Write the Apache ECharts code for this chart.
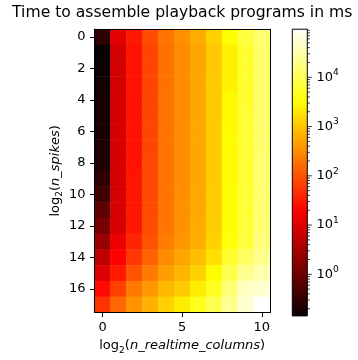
<!DOCTYPE html>
<html><head><meta charset="utf-8">
<script src="https://cdn.jsdelivr.net/npm/echarts@6/dist/echarts.min.js"></script>
<style>html,body{margin:0;padding:0;background:#fff}#c{width:358px;height:360px}</style>
</head><body><div id="c"></div>
<script>
// log2(n_realtime_columns) categories (x) and log2(n_spikes) categories (y)
const colLabels = [0, 1, 2, 3, 4, 5, 6, 7, 8, 9, 10];
const rowLabels = [0, 1, 2, 3, 4, 5, 6, 7, 8, 9, 10, 11, 12, 13, 14, 15, 16, 17];
// time in ms, one array per column, rows 0..17 top to bottom
const col0  = [0.30, 0.143, 0.145, 0.17, 0.19, 0.19, 0.20, 0.21, 0.22, 0.30, 0.41, 0.76, 1.27, 2.5, 5.3, 9.8, 24, 53];
const col1  = [10.6, 7.8, 7.8, 8.0, 8.0, 8.0, 8.2, 8.2, 8.2, 8.5, 8.5, 8.5, 9, 13, 20, 32, 70, 150];
const col2  = [31, 27, 27, 27, 28, 28, 28, 28, 28, 29, 29, 30, 31, 40, 58, 100, 220, 370];
const col3  = [88, 76, 76, 76, 78, 78, 78, 78, 80, 80, 82, 85, 90, 100, 135, 220, 400, 680];
const col4  = [200, 185, 185, 185, 190, 190, 190, 190, 190, 195, 195, 200, 210, 235, 310, 450, 750, 1250];
const col5  = [350, 310, 310, 315, 315, 315, 320, 320, 320, 320, 330, 340, 350, 380, 520, 700, 1120, 2200];
const col6  = [600, 520, 520, 520, 530, 530, 530, 530, 540, 540, 550, 560, 580, 620, 870, 1250, 2200, 4700];
const col7  = [1250, 1050, 1050, 1080, 1100, 1100, 1100, 1120, 1120, 1120, 1150, 1150, 1200, 1300, 1700, 3000, 5000, 9500];
const col8  = [3150, 2300, 2300, 2400, 2800, 2800, 2900, 2900, 3000, 3000, 3000, 3000, 3100, 3500, 6000, 9000, 16000, 22000];
const col9  = [7400, 6000, 6000, 6000, 6000, 6200, 6200, 6200, 6300, 6300, 6400, 6500, 6800, 7400, 11500, 21000, 41000, 52000];
const col10 = [14000, 13000, 13000, 13000, 13500, 13500, 13500, 13500, 14000, 14000, 14000, 14500, 15000, 17000, 21000, 33000, 52000, 94800];
const columns = [col0, col1, col2, col3, col4, col5, col6, col7, col8, col9, col10];
const xTickShown = [0, 5, 10];
const yTickShown = [0, 2, 4, 6, 8, 10, 12, 14, 16];
const cbarMajor = [1, 10, 100, 1000, 10000];

const FONT = 'DejaVu Sans';
const TXT = '#000';

// matplotlib "hot" colormap
function hot(t) {
  const cl = v => Math.max(0, Math.min(1, v));
  const r = t < 0.365079 ? 0.0416 + (1 - 0.0416) * t / 0.365079 : 1;
  const g = cl((t - 0.365079) / (0.746032 - 0.365079));
  const b = cl((t - 0.746032) / (1 - 0.746032));
  return 'rgb(' + Math.round(r * 255) + ',' + Math.round(g * 255) + ',' + Math.round(b * 255) + ')';
}
const NSTOP = 200;
const hotColors = [];
for (let i = 0; i <= NSTOP; i++) hotColors.push(hot(i / NSTOP));

const data = [];
columns.forEach((col, x) => col.forEach((v, y) => data.push([x, y, Math.log10(v), v])));
const allVals = columns.flat();
const vmin = Math.min(...allVals), vmax = Math.max(...allVals);
const lmin = Math.log10(vmin), lmax = Math.log10(vmax);

const tickData = [];
cbarMajor.forEach(v => tickData.push([1, v, 4.5]));
for (let e = Math.floor(lmin); e <= Math.ceil(lmax); e++) {
  for (let k = 2; k <= 9; k++) {
    const v = k * Math.pow(10, e);
    if (v >= vmin && v <= vmax) tickData.push([1, v, 2.6]);
  }
}

const G = { left: 94.6, top: 29.2, width: 175.2, height: 286.7 };
const CB = { left: 292.3, top: 29.2, width: 15, height: 286.7 };

const nameRich = {
  a: { fontSize: 13, lineHeight: 18, fontFamily: FONT, color: TXT },
  s: { fontSize: 9.1, lineHeight: 12, verticalAlign: 'bottom', fontFamily: FONT, color: TXT },
  i: { fontSize: 13, lineHeight: 18, fontStyle: 'italic', fontFamily: FONT, color: TXT }
};
const lineStyle = { color: '#000', width: 1 };

const chart = echarts.init(document.getElementById('c'), null, { renderer: 'canvas' });
chart.setOption({
  animation: false,
  backgroundColor: '#fff',
  title: {
    text: 'Time to assemble playback programs in ms',
    left: G.left + G.width / 2, top: 2.6, padding: 0, textAlign: 'center',
    textStyle: { fontFamily: FONT, fontSize: 15.6, fontWeight: 'normal', color: TXT, lineHeight: 20 }
  },
  grid: [
    { left: G.left, top: G.top, width: G.width, height: G.height, containLabel: false },
    { left: CB.left, top: CB.top, width: CB.width, height: CB.height, containLabel: false }
  ],
  visualMap: {
    type: 'continuous', show: false, min: lmin, max: lmax, dimension: 2, seriesIndex: 0,
    inRange: { color: hotColors }
  },
  xAxis: [
    {
      gridIndex: 0, type: 'category', data: colLabels, position: 'bottom', z: 5,
      axisLine: { show: true, lineStyle },
      axisTick: { show: true, alignWithLabel: true, length: 4.5, lineStyle,
        interval: (i) => xTickShown.includes(colLabels[i]) },
      axisLabel: { margin: 9, fontSize: 13, fontFamily: FONT, color: TXT,
        interval: (i) => xTickShown.includes(colLabels[i]) },
      splitLine: { show: false },
      name: '{a|log}{s|2}{a|(}{i|n_realtime_columns}{a|)}',
      nameLocation: 'middle', nameGap: 24,
      nameTextStyle: { rich: nameRich }
    },
    {
      gridIndex: 0, type: 'category', data: colLabels, position: 'top', z: 5,
      axisLine: { show: true, lineStyle }, axisTick: { show: false }, axisLabel: { show: false },
      splitLine: { show: false }
    },
    {
      gridIndex: 1, type: 'value', min: 0, max: 1, show: false
    }
  ],
  yAxis: [
    {
      gridIndex: 0, type: 'category', data: rowLabels, inverse: true, position: 'left', z: 5,
      axisLine: { show: true, lineStyle },
      axisTick: { show: true, alignWithLabel: true, length: 4.5, lineStyle,
        interval: (i) => yTickShown.includes(rowLabels[i]) },
      axisLabel: { margin: 9, fontSize: 13, fontFamily: FONT, color: TXT,
        interval: (i) => yTickShown.includes(rowLabels[i]) },
      splitLine: { show: false },
      name: '{a|log}{s|2}{a|(}{i|n_spikes}{a|)}',
      nameLocation: 'middle', nameGap: 30, nameRotate: 90,
      nameTextStyle: { rich: nameRich }
    },
    {
      gridIndex: 0, type: 'category', data: rowLabels, inverse: true, position: 'right', z: 5,
      axisLine: { show: true, lineStyle }, axisTick: { show: false }, axisLabel: { show: false },
      splitLine: { show: false }
    },
    {
      gridIndex: 1, type: 'log', logBase: 10, min: vmin, max: vmax, position: 'right',
      axisLine: { show: false }, axisTick: { show: false }, splitLine: { show: false },
      axisLabel: {
        margin: 9.1, showMinLabel: true, showMaxLabel: true,
        formatter: (val) => {
          const l = Math.log10(val); const r = Math.round(l);
          if (Math.abs(l - r) < 1e-6) return '{b|10}{s|' + r + '}';
          return '';
        },
        rich: {
          b: { fontSize: 13, lineHeight: 18, fontFamily: FONT, color: TXT },
          s: { fontSize: 9.1, lineHeight: 11, verticalAlign: 'top', fontFamily: FONT, color: TXT }
        }
      }
    }
  ],
  series: [
    {
      type: 'heatmap', xAxisIndex: 0, yAxisIndex: 0, data: data,
      itemStyle: { borderWidth: 0 }, emphasis: { disabled: true }
    },
    {
      type: 'custom', xAxisIndex: 2, yAxisIndex: 2, data: [[0, vmin, 1, vmax]], silent: true, z: 3,
      renderItem: (params, api) => {
        const p0 = api.coord([0, api.value(3)]);
        const p1 = api.coord([1, api.value(1)]);
        const stops = hotColors.map((c, i) => ({ offset: i / NSTOP, color: c }));
        return {
          type: 'rect',
          shape: { x: p0[0], y: p0[1], width: p1[0] - p0[0], height: p1[1] - p0[1] },
          style: { fill: new echarts.graphic.LinearGradient(0, 1, 0, 0, stops), stroke: '#000', lineWidth: 1 }
        };
      }
    },
    {
      type: 'custom', xAxisIndex: 2, yAxisIndex: 2, data: tickData, silent: true, z: 4, clip: false,
      renderItem: (params, api) => {
        const p = api.coord([api.value(0), api.value(1)]);
        const len = api.value(2);
        return {
          type: 'line',
          shape: { x1: p[0], y1: p[1], x2: p[0] + len, y2: p[1] },
          style: { stroke: '#000', lineWidth: 0.8 }
        };
      }
    }
  ]
});
</script>
</body></html>
